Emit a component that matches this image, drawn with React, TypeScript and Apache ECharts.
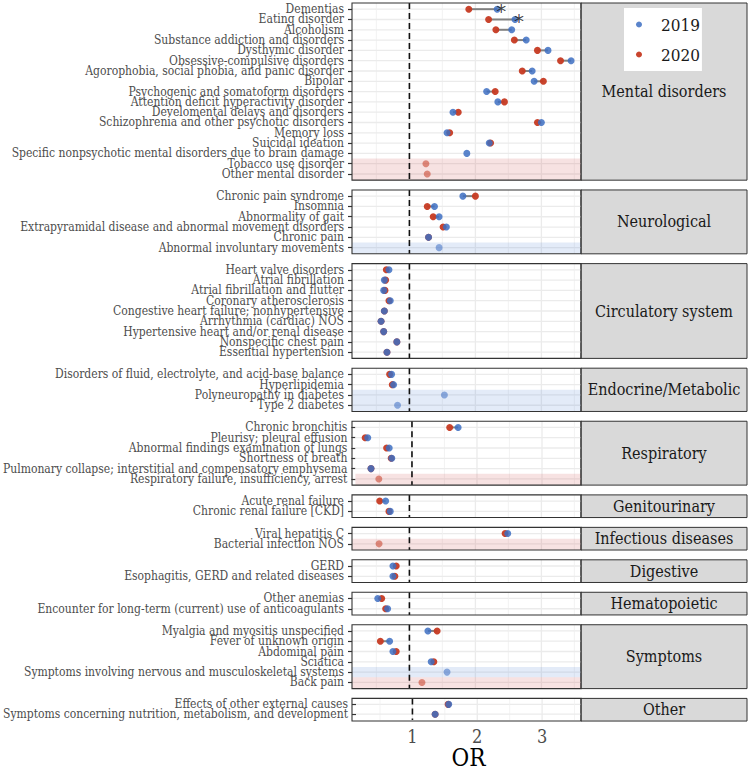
import React, { useEffect, useRef } from "react";
import * as echarts from "echarts";

// ---------- data ----------
const panelNames = [
  "Mental disorders",
  "Neurological",
  "Circulatory system",
  "Endocrine/Metabolic",
  "Respiratory",
  "Genitourinary",
  "Infectious diseases",
  "Digestive",
  "Hematopoietic",
  "Symptoms",
  "Other",
];

const mentalLabels = [
  "Dementias",
  "Eating disorder",
  "Alcoholism",
  "Substance addiction and disorders",
  "Dysthymic disorder",
  "Obsessive-compulsive disorders",
  "Agorophobia, social phobia, and panic disorder",
  "Bipolar",
  "Psychogenic and somatoform disorders",
  "Attention deficit hyperactivity disorder",
  "Develomental delays and disorders",
  "Schizophrenia and other psychotic disorders",
  "Memory loss",
  "Suicidal ideation",
  "Specific nonpsychotic mental disorders due to brain damage",
  "Tobacco use disorder",
  "Other mental disorder",
];
const mental2019 = [2.33, 2.6, 2.55, 2.77, 3.1, 3.45, 2.86, 2.89, 2.17, 2.34, 1.66, 3.0, 1.57, 2.21, 1.87, null, null];
const mental2020 = [1.9, 2.2, 2.31, 2.59, 2.94, 3.29, 2.71, 3.03, 2.3, 2.44, 1.74, 2.94, 1.61, 2.23, null, 1.25, 1.27];

const neuroLabels = [
  "Chronic pain syndrome",
  "Insomnia",
  "Abnormality of gait",
  "Extrapyramidal disease and abnormal movement disorders",
  "Chronic pain",
  "Abnormal involuntary movements",
];
const neuro2019 = [1.81, 1.38, 1.45, 1.56, 1.29, 1.45];
const neuro2020 = [2.0, 1.27, 1.36, 1.51, 1.29, null];

const circLabels = [
  "Heart valve disorders",
  "Atrial fibrillation",
  "Atrial fibrillation and flutter",
  "Coronary atherosclerosis",
  "Congestive heart failure; nonhypertensive",
  "Arrhythmia (cardiac) NOS",
  "Hypertensive heart and/or renal disease",
  "Nonspecific chest pain",
  "Essential hypertension",
];
const circ2019 = [0.69, 0.62, 0.61, 0.71, 0.62, 0.57, 0.61, 0.81, 0.66];
const circ2020 = [0.65, 0.64, 0.63, 0.69, 0.62, 0.57, 0.61, 0.81, 0.66];

const endoLabels = [
  "Disorders of fluid, electrolyte, and acid-base balance",
  "Hyperlipidemia",
  "Polyneuropathy in diabetes",
  "Type 2 diabetes",
];
const endo2019 = [0.73, 0.76, 1.53, 0.82];
const endo2020 = [0.7, 0.74, null, null];

const respLabels = [
  "Chronic bronchitis",
  "Pleurisy; pleural effusion",
  "Abnormal findings examination of lungs",
  "Shortness of breath",
  "Pulmonary collapse; interstitial and compensatory emphysema",
  "Respiratory failure, insufficiency, arrest",
];
const resp2019 = [1.71, 0.32, 0.65, 0.69, 0.37, null];
const resp2020 = [1.58, 0.28, 0.61, 0.68, 0.37, 0.49];

const genLabels = ["Acute renal failure", "Chronic renal failure [CKD]"];
const gen2019 = [0.64, 0.71];
const gen2020 = [0.55, 0.69];

const infLabels = ["Viral hepatitis C", "Bacterial infection NOS"];
const inf2019 = [2.49, null];
const inf2020 = [2.45, 0.54];

const digLabels = ["GERD", "Esophagitis, GERD and related diseases"];
const dig2019 = [0.75, 0.75];
const dig2020 = [0.8, 0.78];

const hemLabels = ["Other anemias", "Encounter for long-term (current) use of anticoagulants"];
const hem2019 = [0.52, 0.67];
const hem2020 = [0.58, 0.64];

const sympLabels = [
  "Myalgia and myositis unspecified",
  "Fever of unknown origin",
  "Abdominal pain",
  "Sciatica",
  "Symptoms involving nervous and musculoskeletal systems",
  "Back pain",
];
const symp2019 = [1.28, 0.7, 0.75, 1.33, 1.57, null];
const symp2020 = [1.42, 0.56, 0.8, 1.37, null, 1.19];

const otherLabels = [
  "Effects of other external causes",
  "Symptoms concerning nutrition, metabolism, and development",
];
const other2019 = [1.56, 1.35];
const other2020 = [1.55, 1.35];

const highlighted2019Only = [
  "Abnormal involuntary movements",
  "Polyneuropathy in diabetes",
  "Type 2 diabetes",
  "Symptoms involving nervous and musculoskeletal systems",
];
const highlighted2020Only = [
  "Tobacco use disorder",
  "Other mental disorder",
  "Respiratory failure, insufficiency, arrest",
  "Bacterial infection NOS",
  "Back pain",
];
const starred = ["Dementias", "Eating disorder"];

const majorBreaks = [1, 2, 3];
const minorBreaks = [0.5, 1.5, 2.5, 3.5];
const xTickLabels = [1, 2, 3];

// ---------- layout / style ----------
const panels = [
  [mentalLabels, mental2019, mental2020],
  [neuroLabels, neuro2019, neuro2020],
  [circLabels, circ2019, circ2020],
  [endoLabels, endo2019, endo2020],
  [respLabels, resp2019, resp2020],
  [genLabels, gen2019, gen2020],
  [infLabels, inf2019, inf2020],
  [digLabels, dig2019, dig2020],
  [hemLabels, hem2019, hem2020],
  [sympLabels, symp2019, symp2020],
  [otherLabels, other2019, other2020],
] as any[];

const XMIN = 0.13;
const XMAX = 3.6;
const TOP0 = 3;
const UNIT = 10.3;
const GAP = 9.8;
const PLOT_LEFT = 352;
const PLOT_RIGHT = 581;
const STRIP_RIGHT = 747;
const FONT = '"DejaVu Serif Condensed", "DejaVu Serif", serif';
const BLUE = "#3d6ec2";
const RED = "#c63a22";

function buildOption() {
  const grids: any[] = [];
  const xAxes: any[] = [];
  const yAxes: any[] = [];
  const series: any[] = [];
  const graphics: any[] = [];
  let top = TOP0;
  const last = panels.length - 1;

  panels.forEach((p: any[], k: number) => {
    const labels: string[] = p[0];
    const v19: (number | null)[] = p[1];
    const v20: (number | null)[] = p[2];
    const n = labels.length;
    const H = (n + 0.2) * UNIT;
    grids.push({
      left: PLOT_LEFT,
      top: top + 0.1 * UNIT,
      width: PLOT_RIGHT - PLOT_LEFT,
      height: n * UNIT,
    });
    const isLast = k === last;
    xAxes.push({
      gridIndex: k,
      type: "value",
      min: XMIN,
      max: XMAX,
      axisLine: { show: false },
      axisTick: { show: false },
      splitLine: { show: false },
      axisLabel: {
        show: isLast,
        customValues: xTickLabels,
        formatter: (v: number) => (Number.isInteger(v) ? String(v) : ""),
        fontSize: 18,
        color: "#4d4d4d",
        fontFamily: FONT,
        margin: 8,
      },
      name: isLast ? "OR" : "",
      nameLocation: "middle",
      nameGap: 26,
      nameTextStyle: { fontSize: 24, color: "#000", fontFamily: FONT },
    });
    yAxes.push({
      gridIndex: k,
      type: "category",
      data: labels,
      inverse: true,
      axisLine: { show: false },
      axisTick: {
        show: true,
        length: 4,
        alignWithLabel: true,
        lineStyle: { color: "#333", width: 1.2 },
      },
      axisLabel: {
        fontSize: 12,
        lineHeight: 10,
        color: "#4d4d4d",
        fontFamily: FONT,
        margin: 8,
        interval: 0,
      },
      splitLine: { show: false },
    });

    // background grid lines
    series.push({
      type: "custom",
      xAxisIndex: k,
      yAxisIndex: k,
      z: 1,
      silent: true,
      data: labels.map((_l, i) => [XMIN, i]),
      encode: { x: 0, y: 1 },
      renderItem: (params: any, api: any) => {
        const cs = params.coordSys;
        const u = api.size([0, 1])[1];
        const y = api.coord([XMIN, api.value(1)])[1];
        const children: any[] = [
          {
            type: "line",
            shape: { x1: cs.x, y1: y, x2: cs.x + cs.width, y2: y },
            style: { stroke: "#ebebeb", lineWidth: 1.3 },
          },
        ];
        if (params.dataIndex === 0) {
          const y1 = cs.y - 0.1 * u;
          const y2 = cs.y + cs.height + 0.1 * u;
          minorBreaks.forEach((v) => {
            const x = api.coord([v, 0])[0];
            children.push({
              type: "line",
              shape: { x1: x, y1, x2: x, y2 },
              style: { stroke: "#f0f0f0", lineWidth: 0.8 },
            });
          });
          majorBreaks.forEach((v) => {
            const x = api.coord([v, 0])[0];
            children.push({
              type: "line",
              shape: { x1: x, y1, x2: x, y2 },
              style: { stroke: "#ebebeb", lineWidth: 1.3 },
            });
          });
        }
        return { type: "group", children };
      },
    });

    // highlight bands
    const bandData: any[] = [];
    labels.forEach((l, i) => {
      if (highlighted2019Only.includes(l)) bandData.push([XMIN, i, 0]);
      if (highlighted2020Only.includes(l)) bandData.push([XMIN, i, 1]);
    });
    if (bandData.length) {
      series.push({
        type: "custom",
        xAxisIndex: k,
        yAxisIndex: k,
        z: 2,
        silent: true,
        data: bandData,
        encode: { x: 0, y: 1 },
        renderItem: (params: any, api: any) => {
          const cs = params.coordSys;
          const u = api.size([0, 1])[1];
          const idx = api.value(1);
          const y = api.coord([XMIN, idx])[1];
          let yTop = y - u / 2;
          let yBot = y + u / 2;
          if (idx === 0) yTop -= 0.1 * u;
          if (idx === n - 1) yBot += 0.1 * u;
          const kind = api.value(2);
          return {
            type: "rect",
            shape: { x: cs.x, y: yTop, width: cs.width, height: yBot - yTop },
            style: {
              fill: kind === 0 ? "rgba(70,120,210,0.15)" : "rgba(205,85,85,0.17)",
            },
          };
        },
      });
    }

    // reference dashed line at OR = 1
    series.push({
      type: "custom",
      xAxisIndex: k,
      yAxisIndex: k,
      z: 3,
      silent: true,
      data: [[1, 0]],
      encode: { x: 0, y: 1 },
      renderItem: (params: any, api: any) => {
        const cs = params.coordSys;
        const u = api.size([0, 1])[1];
        const x = api.coord([api.value(0), 0])[0];
        return {
          type: "line",
          shape: { x1: x, y1: cs.y - 0.1 * u, x2: x, y2: cs.y + cs.height + 0.1 * u },
          style: { stroke: "#111", lineWidth: 1.6, lineDash: [6, 4] },
        };
      },
    });

    // segments
    const segData: any[] = [];
    labels.forEach((_l, i) => {
      const a = v19[i];
      const b = v20[i];
      if (a != null && b != null && a !== b) segData.push([a, b, i]);
    });
    if (segData.length) {
      series.push({
        type: "custom",
        xAxisIndex: k,
        yAxisIndex: k,
        z: 4,
        silent: true,
        data: segData,
        encode: { x: [0, 1], y: 2 },
        renderItem: (_params: any, api: any) => {
          const p1 = api.coord([api.value(0), api.value(2)]);
          const p2 = api.coord([api.value(1), api.value(2)]);
          return {
            type: "line",
            shape: { x1: p1[0], y1: p1[1], x2: p2[0], y2: p2[1] },
            style: { stroke: "#808080", lineWidth: 2 },
          };
        },
      });
    }

    const isLight = (l: string) => highlighted2019Only.includes(l) || highlighted2020Only.includes(l);
    const pts = (vals: (number | null)[]) =>
      vals
        .map((v, i) =>
          v == null
            ? null
            : {
                value: [v, i],
                itemStyle: isLight(labels[i]) ? { opacity: 0.55 } : undefined,
              }
        )
        .filter((d) => d != null);

    series.push({
      name: "2020",
      type: "scatter",
      xAxisIndex: k,
      yAxisIndex: k,
      z: 5,
      silent: true,
      symbol: "circle",
      symbolSize: 7,
      itemStyle: { color: RED, opacity: 0.95 },
      data: pts(v20),
    });
    series.push({
      name: "2019",
      type: "scatter",
      xAxisIndex: k,
      yAxisIndex: k,
      z: 6,
      silent: true,
      symbol: "circle",
      symbolSize: 7,
      itemStyle: { color: BLUE, opacity: 0.85 },
      data: pts(v19),
    });

    const starData: any[] = [];
    labels.forEach((l, i) => {
      if (starred.includes(l) && v19[i] != null) starData.push([v19[i], i]);
    });
    if (starData.length) {
      series.push({
        type: "scatter",
        xAxisIndex: k,
        yAxisIndex: k,
        z: 20,
        silent: true,
        symbolSize: 0,
        data: starData,
        label: {
          show: true,
          formatter: "*",
          position: "inside",
          offset: [4, 2],
          fontSize: 20,
          color: "#111",
          fontFamily: "DejaVu Sans",
        },
      });
    }

    // panel border + strip
    graphics.push({
      type: "rect",
      z: 0,
      shape: { x: PLOT_RIGHT, y: top, width: STRIP_RIGHT - PLOT_RIGHT, height: H },
      style: { fill: "#d9d9d9", stroke: "#333", lineWidth: 1 },
    });
    graphics.push({
      type: "text",
      z: 1,
      x: (PLOT_RIGHT + STRIP_RIGHT) / 2,
      y: top + H / 2,
      style: {
        text: panelNames[k],
        fill: "#1a1a1a",
        font: '16px "DejaVu Serif Condensed", "DejaVu Serif", serif',
        align: "center",
        verticalAlign: "middle",
        textAlign: "center",
        textVerticalAlign: "middle",
      },
    });
    graphics.push({
      type: "rect",
      z: 50,
      shape: { x: PLOT_LEFT, y: top, width: PLOT_RIGHT - PLOT_LEFT, height: H },
      style: { fill: "none", stroke: "#333", lineWidth: 1.1 },
    });

    top += H + GAP;
  });

  return {
    animation: false,
    backgroundColor: "#fff",
    grid: grids,
    xAxis: xAxes,
    yAxis: yAxes,
    series,
    graphic: graphics,
    legend: {
      data: ["2019", "2020"],
      orient: "vertical",
      left: 624,
      top: 8,
      z: 100,
      selectedMode: false,
      backgroundColor: "#fff",
      padding: [8, 2, 8, 12],
      itemGap: 13,
      itemWidth: 6,
      itemHeight: 6,
      icon: "circle",
      textStyle: {
        fontSize: 17,
        color: "#1a1a1a",
        fontFamily: FONT,
        padding: [0, 0, 0, 14],
      },
    },
  };
}

export default function App() {
  const ref = useRef<HTMLDivElement>(null);
  useEffect(() => {
    if (!ref.current) return;
    const chart = echarts.init(ref.current, null, { renderer: "svg" });
    chart.setOption(buildOption() as any);
    return () => chart.dispose();
  }, []);
  return (
    <div
      ref={ref}
      style={{ position: "fixed", left: 0, top: 0, width: 750, height: 771, background: "#fff" }}
    />
  );
}
